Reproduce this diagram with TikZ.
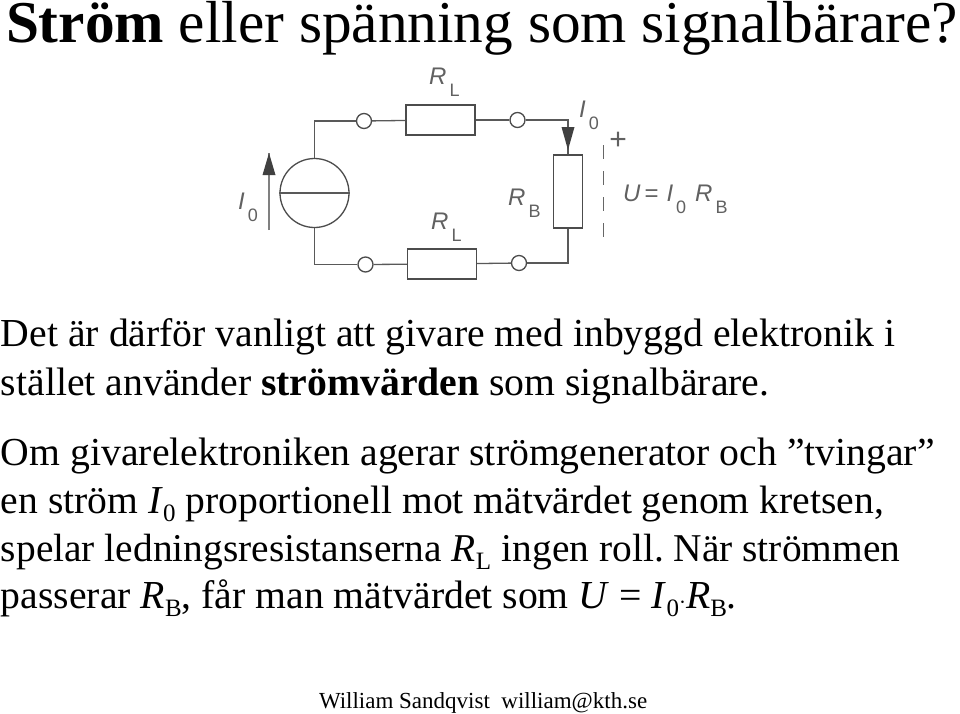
\documentclass[tikz,border=0pt]{standalone}
\usepackage{fontspec}
\setmainfont{Liberation Serif}
\newfontfamily\lblfont{Liberation Sans}
\usetikzlibrary{arrows.meta}
\newcommand{\sbs}[1]{\raisebox{-8.5pt}{\fontsize{25}{25}\selectfont #1}}
\newcommand{\lbl}[2]{{\itshape #1}\raisebox{-12pt}{\hspace{3pt}\fontsize{18}{18}\selectfont\upshape #2}}
\tikzset{
 x=1pt,y=-1pt,
 line/.style={anchor=base west,inner sep=0pt,outer sep=0pt,font=\fontsize{39.7}{40}\selectfont},
 wire/.style={draw=black!65,line width=1.3pt},
 res/.style={draw=black!70,line width=1.3pt,fill=white,inner sep=0pt,minimum width=69pt,minimum height=30pt},
 termi/.style={circle,draw=black!70,line width=1.3pt,fill=white,inner sep=0pt,minimum size=15pt},
 src/.style={circle,draw=black!70,line width=1.3pt,fill=white,inner sep=0pt,minimum size=69pt},
 lab/.style={anchor=base west,inner sep=0pt,text=black!62,font=\lblfont\fontsize{24}{24}\selectfont},
 flow/.style={draw=black!50,line width=1.2pt}
}
\begin{document}
\frenchspacing
\begin{tikzpicture}
\useasboundingbox (0,0) rectangle (960,713);
\fill[white] (0,0) rectangle (960,713);
% title
\node[line,font=\fontsize{59.3}{60}\selectfont] (title) at (6,42) {\textbf{Ström} eller spänning som signalbärare?};
% circuit
\node[src] (S) at (314.5,193) {};
\draw[black!65,line width=1.3pt] (S.west) -- (S.east);
\node[res] (R1) at (440.5,120) {};
\node[res] (R2) at (442,264) {};
\node[res,minimum width=28.5pt,minimum height=73pt] (RB) at (568,191.5) {};
\node[termi] (t1) at (364,121) {};
\node[termi] (t2) at (517.5,120) {};
\node[termi] (t3) at (365.5,264.5) {};
\node[termi] (t4) at (519,263) {};
\coordinate (c1) at (S.north |- t1);
\coordinate (c2) at (RB.north |- t2);
\coordinate (c3) at (S.south |- t3);
\coordinate (c4) at (RB.south |- t4);
\draw[wire] (S.north) -- (c1) -- (t1);
\draw[wire] (t1) -- (R1);
\draw[wire] (R1) -- (t2);
\draw[wire] (t2) -- (c2) -- (RB.north);
\draw[wire] (S.south) -- (c3) -- (t3);
\draw[wire] (t3) -- (R2);
\draw[wire] (R2) -- (t4);
\draw[wire] (t4) -- (c4) -- (RB.south);
\fill[black!75] (561.5,127) -- (574.5,127) -- (568,150) -- cycle;
\coordinate (a1) at (269,230);
\coordinate (a2) at (269,153);
\draw[flow] (a1) -- (a2);
\fill[black!75] (262.5,175) -- (275.5,175) -- (269,153) -- cycle;
\coordinate (d1) at (603.5,145);
\coordinate (d2) at (603.5,238);
\draw[black!60,line width=1.2pt,dash pattern=on 14pt off 12pt] (d1) -- (d2);
\node[lab] (l1) at (429,84) {\lbl{R}{L}};
\node[lab] (l2) at (431,229) {\lbl{R}{L}};
\node[lab] (l3) at (508,205) {\lbl{R}{B}};
\node[lab] (l4) at (238,209) {\lbl{I}{0}};
\node[lab] (l5) at (579,117.5) {\lbl{I}{0}};
\node[lab,anchor=center,font=\lblfont\fontsize{30}{30}\selectfont] (l6) at (618,141) {+};
\node[lab] (l7) at (623,201) {{\itshape U}\hspace{4pt}=\hspace{8pt}\lbl{I}{0}\hspace{9pt}\lbl{R}{B}};
% text
\node[line] (a) at (1,346) {Det är därför vanligt att givare med inbyggd elektronik i};
\node[line] (b) at (1,395) {stället använder \textbf{strömvärden} som signalbärare.};
\node[line] (c) at (1,465) {Om givarelektroniken agerar strömgenerator och ”tvingar”};
\node[line,font=\fontsize{39.6}{40}\selectfont] (d) at (1,513) {en ström \textit{I}\sbs{0} proportionell mot mätvärdet genom kretsen,};
\node[line,font=\fontsize{39.4}{40}\selectfont] (e) at (1,561) {spelar ledningsresistanserna \textit{R}\sbs{L}\hspace{1pt} ingen roll. När strömmen};
\node[line] (f) at (1,608) {passerar \textit{R}\sbs{B}, får man mätvärdet som \textit{U} = \textit{I}\sbs{0}$\cdot$\textit{R}\sbs{B}.};
\node[line,font=\fontsize{23}{24}\selectfont] (g) at (319,708) {William Sandqvist\ \ william@kth.se};
\end{tikzpicture}
\end{document}
